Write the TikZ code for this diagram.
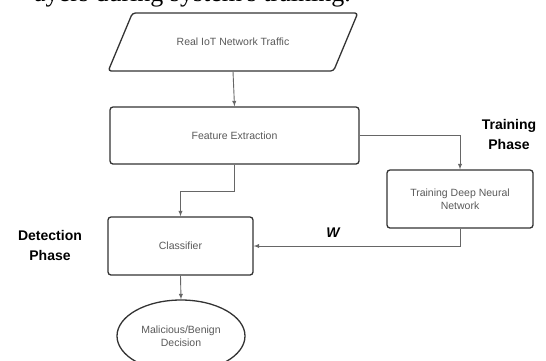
\documentclass[tikz,border=0pt]{standalone}
\usepackage{fontspec}
\setmainfont{Liberation Sans}
\newfontfamily\capfont{Liberation Serif}
\usetikzlibrary{calc}
\usetikzlibrary{arrows}
\usetikzlibrary{shapes}
\usetikzlibrary{positioning}
\tikzset{block/.style={draw=black!80, line width=1.3pt, rounded corners=3pt, text=black!65, align=center, font=\fontsize{10.5}{13}\selectfont}}
\tikzset{connect/.style={draw=black!60, line width=0.9pt, ->, >=latex}}
\tikzset{phase/.style={align=center, font=\bfseries\fontsize{14}{20}\selectfont}}

\begin{document}
\begin{tikzpicture}[x=1pt,y=-1pt]
\useasboundingbox (0,0) rectangle (546,360);
\clip (0,0) rectangle (546,360);
\node[anchor=base west,inner sep=0pt,font=\capfont\fontsize{26}{26}\selectfont] (capline) at (34,1) {ayers during system's training.};
\node[block,trapezium,trapezium left angle=45,trapezium right angle=135,trapezium stretches=true,minimum width=250pt,minimum height=58pt] (traffic) at (233,42) {Real IoT Network Traffic};
\node[block,rectangle,minimum width=249pt,minimum height=57pt] (feat) at (234.5,135.5) {Feature Extraction};
\node[block,rectangle,minimum width=146pt,minimum height=58pt] (train) at (460,199) {Training Deep Neural\\Network};
\node[block,rectangle,minimum width=145pt,minimum height=58pt] (classif) at (180.5,246) {Classifier};
\node[block,ellipse,rounded corners=0pt,minimum width=128pt,minimum height=72pt] (decision) at (181,336) {Malicious/Benign\\Decision};
\node[phase] (trainlbl) at (509,134) {Training\\Phase};
\node[phase] (detectlbl) at (50,245) {Detection\\Phase};
\node[font=\bfseries\itshape\fontsize{14}{16}\selectfont] (wlbl) at (333,233) {W};
\path[connect] (traffic.south) -- (feat.north);
\path[connect] (feat.east) -| (train.north);
\path[connect] (feat.south) -- ++(0,27) -| (classif.north);
\path[connect] (train.south) |- (classif.east);
\path[connect] (classif.south) -- (decision.north);
\end{tikzpicture}
\end{document}
